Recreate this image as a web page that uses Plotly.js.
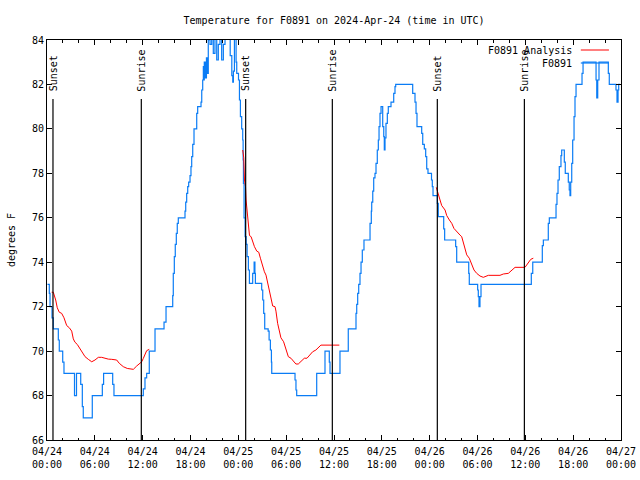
<!DOCTYPE html>
<html>
<head>
<meta charset="utf-8">
<script src="https://cdn.plot.ly/plotly-3.0.1.min.js"></script>
<style>html,body{margin:0;padding:0;background:#fff;}#chart{width:640px;height:480px;}</style>
</head>
<body>
<div id="chart"></div>
<script>
// Start of the time axis (UTC)
const startDate = '2024-04-24T00:00:00Z';

// F0891 observations: hours after start, temperature (deg F)
const obsHours = [0.06,0.29,0.38,0.63,0.79,1.42,1.54,1.97,2.13,3.45,3.70,4.23,4.43,4.55,5.68,6.94,7.10,8.24,8.40,12.08,12.29,12.5,12.83,13.55,14.68,14.93,15.77,15.84,15.97,16.09,16.22,16.34,16.47,17.31,17.40,17.52,17.65,17.77,17.94,18.06,18.15,18.28,18.44,18.78,18.90,19.32,19.41,19.53,19.61,19.69,19.73,19.88,20.0,20.13,20.23,20.45,20.66,20.86,21.07,21.29,21.49,21.70,21.91,22.12,22.33,22.98,23.18,23.30,23.38,23.51,23.72,23.80,24.02,24.14,24.26,24.42,24.55,24.60,24.64,24.72,24.85,24.98,25.10,25.26,25.39,25.80,25.98,26.08,26.14,26.93,27.06,27.18,27.31,27.74,27.86,28.02,28.15,28.19,31.11,31.23,31.32,33.83,34.87,35.41,35.50,36.75,37.79,38.76,38.85,38.97,39.10,39.26,39.39,39.55,39.76,40.52,40.68,40.73,40.86,40.98,41.14,41.27,41.43,41.56,41.65,41.77,41.90,42.11,42.24,42.31,42.40,42.52,42.69,42.81,43.15,43.49,43.65,43.74,45.87,46.16,46.29,46.41,47.0,47.13,47.33,47.50,47.63,47.79,48.23,48.33,48.42,48.96,49.08,49.76,49.88,51.26,51.39,52.90,52.97,54.02,54.10,54.19,54.31,54.44,60.75,60.93,62.13,62.26,62.88,63.01,63.85,63.97,64.10,64.26,64.47,64.56,64.89,65.01,65.39,65.51,65.60,65.69,65.82,65.94,66.11,66.23,66.36,67.11,67.24,68.87,68.96,69.08,69.24,70.41,70.53,71.37,71.50,71.63,71.71,71.88];
const obsTemps = [73.0,72.6,72.0,71.5,71.0,70.5,70.0,69.5,69.0,68.0,69.0,68.5,67.5,67.0,68.0,68.5,69.0,68.5,68.0,68.3,68.8,69.0,70.0,71.0,71.3,72.0,72.5,73.5,74.25,74.8,75.3,75.75,76.0,76.3,76.7,77.1,77.4,77.6,77.9,78.3,78.75,79.3,80.0,80.7,81.0,81.2,81.75,82.2,82.8,82.2,83.0,82.3,83.2,82.5,84.0,83.8,84.2,83.4,84.1,83.1,83.8,84.3,83.1,83.8,84.2,83.3,82.4,82.1,82.6,84.1,83.0,82.5,82.2,81.3,80.55,80.0,79.5,78.6,77.55,76.0,75.15,74.8,74.25,73.65,73.05,73.5,74.0,73.5,73.05,72.75,72.3,71.7,71.0,70.9,70.5,70.05,69.5,69.0,68.7,68.25,68.0,69.0,70.0,69.5,69.0,70.0,71.0,71.7,72.1,72.6,73.0,73.5,74.0,74.55,75.0,75.75,76.3,76.7,77.2,77.8,78.0,78.45,79.05,79.5,80.1,80.7,81.0,80.1,79.65,79.05,79.6,80.25,80.7,81.0,81.2,81.6,81.9,82.0,81.6,81.2,80.7,80.1,79.8,79.3,79.1,78.75,78.2,78.0,77.7,77.4,77.0,76.65,76.05,75.5,75.0,74.7,74.0,73.5,73.0,72.75,72.45,72.0,72.45,73.0,73.5,74.0,74.75,75.0,75.75,76.0,76.6,77.1,77.7,78.3,78.8,79.05,78.5,78.0,77.6,77.25,77.0,77.6,78.45,79.5,80.55,81.45,82.0,82.5,83.0,82.2,81.4,82.2,83.0,82.5,82.0,81.75,81.2,81.75,82.0,82.0];

// F0891 Analysis: hours after start, temperature (null separates runs)
const anaHours = [0.59,0.79,1.09,1.29,1.54,1.84,2.13,2.47,2.80,3.10,3.30,3.51,3.80,4.14,4.48,4.77,5.18,5.61,6.02,6.44,6.86,7.28,7.69,8.12,8.74,9.07,9.57,10.07,10.50,10.83,11.25,11.58,11.88,12.08,12.29,12.50,12.83,
  null,
  24.55,24.68,24.77,24.90,24.97,25.10,25.27,25.40,25.60,25.81,26.02,26.31,26.56,26.77,26.97,27.27,27.47,27.69,27.90,28.10,28.31,28.60,28.72,28.93,29.14,29.34,29.68,29.97,30.27,30.60,30.93,31.22,31.52,31.85,32.28,32.61,32.90,33.32,33.73,33.94,34.16,34.36,36.67,
  null,
  48.83,49.08,49.30,49.51,49.93,50.14,50.47,50.77,51.05,51.39,51.81,52.02,52.22,52.43,52.65,52.97,53.27,53.56,53.90,54.31,54.73,54.94,55.36,56.82,57.24,57.87,58.29,58.71,59.96,60.38,60.68,61.0];
const anaTemps = [72.65,72.65,72.3,71.95,71.75,71.7,71.5,71.15,71.05,70.9,70.55,70.4,70.3,70.1,69.9,69.75,69.63,69.52,69.6,69.72,69.72,69.67,69.64,69.63,69.6,69.45,69.3,69.22,69.18,69.18,69.33,69.45,69.52,69.67,69.82,70.02,70.08,
  null,
  79.05,78.7,77.7,77.4,76.8,76.2,75.75,75.2,75.15,74.9,74.7,74.5,74.45,74.18,73.9,73.57,73.42,73.05,72.6,72.3,72.03,72.0,71.8,71.25,70.9,70.6,70.42,70.05,69.75,69.68,69.55,69.42,69.42,69.52,69.68,69.68,69.82,69.97,70.05,70.12,70.2,70.27,70.27,
  null,
  77.37,77.1,76.8,76.55,76.35,76.1,75.9,75.75,75.52,75.37,75.22,75.15,74.85,74.55,74.33,74.18,73.9,73.65,73.5,73.38,73.32,73.35,73.41,73.41,73.47,73.5,73.65,73.77,73.77,73.95,74.13,74.18];

// Sunrise / sunset events: hours after start
const eventHours = [0.75, 11.83, 24.92, 35.79, 48.96, 59.88];
const eventLabels = ['Sunset', 'Sunrise', 'Sunset', 'Sunrise', 'Sunset', 'Sunrise'];

// Legend entries and text
const seriesNames = ['F0891 Analysis', 'F0891'];
const yTitle = 'degrees F';
const chartTitle = 'Temperature for F0891 on 2024-Apr-24 (time in UTC)';

const t0 = Date.parse(startDate);
function toTime(h) {
  if (h === null) return null;
  return new Date(t0 + h * 3600000).toISOString().replace('T', ' ').slice(0, 19);
}
const xEnd = toTime(72);

const FONT = 'DejaVu Sans Mono, Liberation Mono, monospace';
const BLUE = '#0a7cf5';
const RED = '#ff0000';

const traces = [
  {
    x: obsHours.map(toTime), y: obsTemps, type: 'scatter', mode: 'lines',
    line: {color: BLUE, width: 1.2, shape: 'hv'}, name: seriesNames[1], showlegend: false,
    hoverinfo: 'skip'
  },
  {
    x: anaHours.map(toTime), y: anaTemps, type: 'scatter', mode: 'lines',
    line: {color: RED, width: 1}, name: seriesNames[0], showlegend: false,
    connectgaps: false, hoverinfo: 'skip'
  }
];

const shapes = [];
const annotations = [];
eventHours.forEach((h, i) => {
  shapes.push({type: 'line', xref: 'x', yref: 'y', x0: toTime(h), x1: toTime(h), y0: 66, y1: 81.35,
    line: {color: '#000', width: 1.2}});
  annotations.push({x: toTime(h), y: 81.6, xref: 'x', yref: 'y', text: eventLabels[i], showarrow: false,
    textangle: -90, xanchor: 'center', yanchor: 'bottom', font: {family: FONT, size: 10, color: '#000'}});
});

// Gnuplot-style legend: text on the left, sample line on the right
const legendColors = [RED, BLUE];
const legendRowsY = [0.975, 0.9425];
seriesNames.forEach((n, i) => {
  annotations.push({x: 0.918, y: legendRowsY[i], xref: 'paper', yref: 'paper', text: n, showarrow: false,
    xanchor: 'right', yanchor: 'middle', font: {family: FONT, size: 10, color: '#000'}});
  shapes.push({type: 'line', xref: 'paper', yref: 'paper', x0: 0.930, x1: 0.979, y0: legendRowsY[i], y1: legendRowsY[i],
    line: {color: legendColors[i], width: i === 1 ? 1.2 : 1}});
});

const layout = {
  width: 640, height: 480,
  margin: {l: 47, r: 19, t: 40, b: 40},
  paper_bgcolor: '#fff', plot_bgcolor: '#fff',
  font: {family: FONT, size: 10, color: '#000'},
  title: {text: chartTitle, x: 0.522, xanchor: 'center', y: 0.958, yanchor: 'middle',
    font: {family: FONT, size: 10, color: '#000'}},
  showlegend: false,
  xaxis: {
    type: 'date', range: [toTime(0), xEnd],
    tick0: toTime(0), dtick: 6 * 3600000, tickformat: '%m/%d<br>%H:%M',
    ticks: 'inside', ticklen: 5, tickcolor: '#000', tickwidth: 1, ticklabelstandoff: 2,
    minor: {dtick: 2 * 3600000, ticks: 'inside', ticklen: 2.5, tickcolor: '#000', showgrid: false},
    showline: true, linecolor: '#000', linewidth: 1, mirror: 'ticks',
    showgrid: false, zeroline: false, tickfont: {family: FONT, size: 10, color: '#000'}
  },
  yaxis: {
    range: [66, 84], dtick: 2, tick0: 66,
    ticks: 'inside', ticklen: 5, tickcolor: '#000', tickwidth: 1,
    showline: true, linecolor: '#000', linewidth: 1, mirror: 'ticks',
    showgrid: false, zeroline: false, tickfont: {family: FONT, size: 10, color: '#000'},
    title: {text: yTitle, font: {family: FONT, size: 10, color: '#000'}, standoff: 14}
  },
  shapes: shapes,
  annotations: annotations
};

Plotly.newPlot('chart', traces, layout, {displayModeBar: false, staticPlot: true});
</script>
</body>
</html>
